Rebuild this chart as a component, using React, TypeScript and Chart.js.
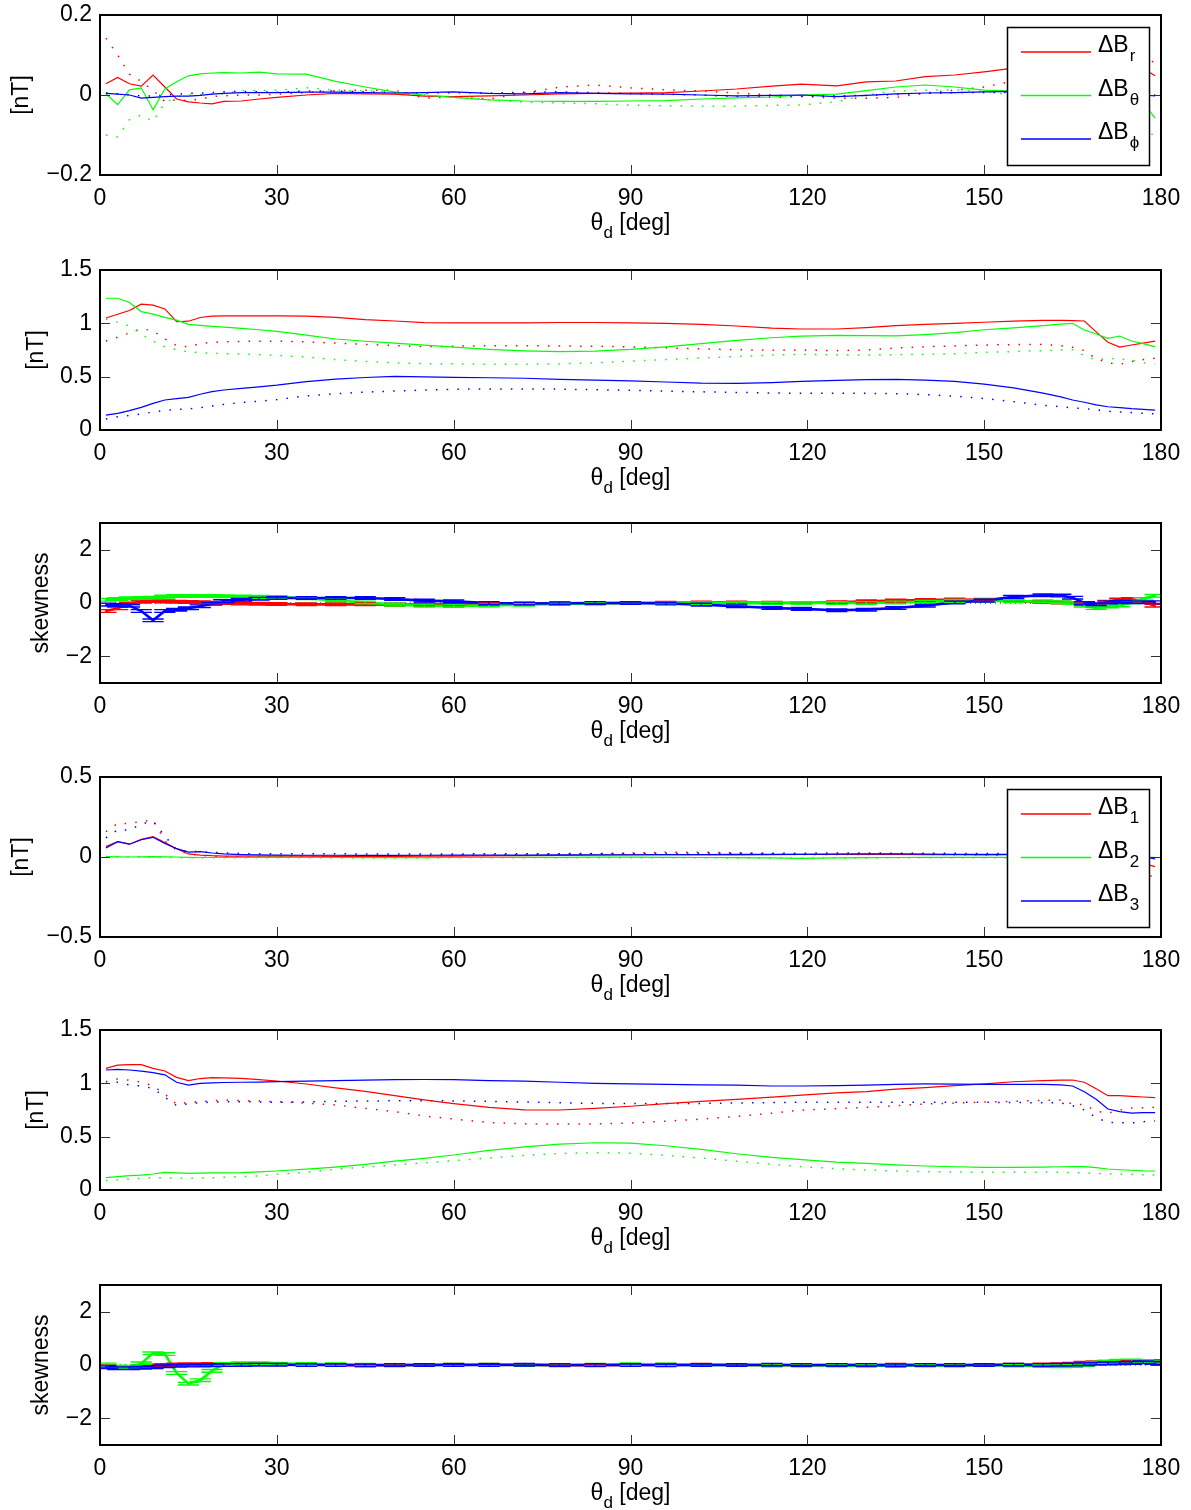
import React, { useEffect, useRef } from "react";
import { Chart, registerables } from "chart.js";
Chart.register(...registerables);

// ---------- data ----------
const THETA = [1, 3, 5, 7, 9, 11, 13, 15, 17, 19, 21,
  24, 27, 30, 35, 40, 45, 50, 55, 60,
  66, 72, 78, 84, 90, 96, 102, 108, 114, 119,
  125, 130, 135, 140, 145, 150, 155, 160,
  163, 165, 167, 169, 171, 173, 175, 177, 179];
const X_TICKS = [0, 30, 60, 90, 120, 150, 180];
const Y_TICKS_MEAN_RTP = [-0.2, 0, 0.2];
const Y_TICKS_STD = [0, 0.5, 1, 1.5];
const Y_TICKS_SKEW = [-2, 0, 2];
const Y_TICKS_MEAN_123 = [-0.5, 0, 0.5];
const LEGEND_RTP = ["r", "θ", "ϕ"];
const LEGEND_123 = ["1", "2", "3"];

// Panel 1: mean dBr, dBtheta, dBphi
const P1_R = [0.028, 0.044, 0.028, 0.022, 0.05, 0.02, -0.01, -0.017, -0.02, -0.022, -0.016,
  -0.015, -0.01, -0.006, 0.0, 0.004, 0.003, 0.002, -0.003, -0.004,
  -0.002, 0.0, 0.003, 0.004, 0.005, 0.006, 0.01, 0.015, 0.022, 0.027,
  0.023, 0.033, 0.035, 0.046, 0.05, 0.058, 0.067, 0.07,
  0.072, 0.073, 0.075, 0.075, 0.075, 0.075, 0.073, 0.066, 0.048];
const P1_G = [0.003, -0.024, 0.013, 0.018, -0.037, 0.015, 0.033, 0.048, 0.053, 0.055, 0.056,
  0.055, 0.057, 0.053, 0.052, 0.034, 0.02, 0.007, 0.0, -0.006,
  -0.012, -0.015, -0.016, -0.016, -0.015, -0.014, -0.01, -0.007, -0.005, 0.0,
  0.002, 0.011, 0.02, 0.025, 0.02, 0.012, 0.01, 0.01,
  0.01, 0.01, 0.01, 0.01, 0.01, 0.008, 0.005, -0.02, -0.058];
const P1_B = [0.004, 0.002, 0.0, -0.008, -0.006, -0.004, -0.003, -0.003, -0.001, 0.002, 0.004,
  0.006, 0.006, 0.006, 0.007, 0.007, 0.006, 0.005, 0.006, 0.008,
  0.004, 0.003, 0.006, 0.004, 0.003, 0.002, 0.0, -0.002, -0.001, 0.0,
  -0.004, -0.001, 0.003, 0.005, 0.006, 0.008, 0.009, 0.008,
  0.006, 0.005, 0.004, 0.003, 0.002, 0.001, 0.0, 0.0, -0.002];
const P1_R_DOT = [0.142, 0.1, 0.052, 0.034, 0.012, -0.016, -0.012, -0.014, -0.01, -0.004, -0.002,
  0.0, 0.0, 0.002, 0.006, 0.011, 0.012, 0.012, -0.008, -0.005,
  -0.01, 0.005, 0.02, 0.025, 0.018, 0.013, 0.01, 0.005, 0.0, -0.003,
  -0.008, -0.008, -0.006, 0.005, 0.012, 0.02, 0.035, 0.045,
  0.05, 0.054, 0.058, 0.062, 0.066, 0.07, 0.074, 0.078, 0.085];
const P1_G_DOT = [-0.1, -0.105, -0.062, -0.05, -0.066, -0.02, -0.005, 0.0, 0.001, 0.002, 0.003,
  0.011, 0.011, 0.012, 0.018, 0.012, 0.011, 0.008, 0.0, -0.006,
  -0.012, -0.018, -0.02, -0.022, -0.025, -0.027, -0.028, -0.028, -0.026, -0.025,
  -0.017, 0.0, 0.01, 0.012, 0.013, 0.008, 0.0, -0.005,
  -0.01, -0.015, -0.02, -0.025, -0.03, -0.04, -0.055, -0.075, -0.106];
const P1_B_DOT = [0.005, 0.003, 0.0, -0.002, -0.003, 0.0, 0.002, 0.004, 0.005, 0.006, 0.008,
  0.009, 0.008, 0.007, 0.01, 0.01, 0.008, 0.006, 0.005, 0.006,
  0.005, 0.007, 0.008, 0.006, 0.004, 0.002, 0.0, -0.004, -0.005, -0.004,
  -0.002, -0.001, 0.001, 0.004, 0.006, 0.006, 0.006, 0.005,
  0.005, 0.004, 0.004, 0.003, 0.003, 0.002, 0.002, 0.001, 0.0];

// Panel 2: std dBr, dBtheta, dBphi
const P2_R = [1.05, 1.085, 1.12, 1.18, 1.17, 1.135, 1.015, 1.02, 1.055, 1.068, 1.07,
  1.07, 1.07, 1.07, 1.068, 1.055, 1.035, 1.022, 1.006, 1.005,
  1.005, 1.005, 1.008, 1.008, 1.005, 1.0, 0.99, 0.975, 0.955, 0.947,
  0.947, 0.96, 0.978, 0.99, 1.0, 1.01, 1.02, 1.027,
  1.028, 1.025, 1.022, 0.92, 0.822, 0.778, 0.797, 0.815, 0.834];
const P2_G = [1.235, 1.235, 1.195, 1.11, 1.087, 1.056, 1.03, 0.99, 0.98, 0.972, 0.965,
  0.952, 0.94, 0.925, 0.89, 0.853, 0.832, 0.815, 0.795, 0.777,
  0.756, 0.742, 0.735, 0.74, 0.755, 0.78, 0.81, 0.84, 0.865, 0.881,
  0.888, 0.884, 0.883, 0.895, 0.912, 0.94, 0.958, 0.978,
  0.992, 1.0, 0.937, 0.9, 0.86, 0.881, 0.834, 0.81, 0.78];
const P2_B = [0.14, 0.156, 0.181, 0.212, 0.25, 0.281, 0.295, 0.306, 0.335, 0.36, 0.375,
  0.39, 0.405, 0.42, 0.453, 0.477, 0.492, 0.503, 0.498, 0.494,
  0.49, 0.485, 0.475, 0.468, 0.46, 0.45, 0.44, 0.438, 0.445, 0.455,
  0.466, 0.473, 0.475, 0.468, 0.455, 0.43, 0.395, 0.345,
  0.31, 0.281, 0.26, 0.235, 0.218, 0.21, 0.2, 0.193, 0.187];
const P2_R_DOT = [0.834, 0.87, 0.91, 0.95, 0.93, 0.853, 0.791, 0.78, 0.81, 0.822, 0.826,
  0.83, 0.833, 0.833, 0.826, 0.815, 0.802, 0.792, 0.781, 0.785,
  0.791, 0.79, 0.788, 0.785, 0.78, 0.77, 0.76, 0.752, 0.748, 0.75,
  0.744, 0.75, 0.768, 0.78, 0.788, 0.797, 0.8, 0.803,
  0.791, 0.775, 0.745, 0.668, 0.63, 0.616, 0.641, 0.66, 0.672];
const P2_G_DOT = [1.04, 1.01, 0.975, 0.9, 0.834, 0.78, 0.752, 0.732, 0.725, 0.72, 0.716,
  0.712, 0.706, 0.7, 0.684, 0.66, 0.642, 0.63, 0.622, 0.62,
  0.616, 0.617, 0.62, 0.63, 0.645, 0.66, 0.675, 0.69, 0.702, 0.709,
  0.705, 0.703, 0.706, 0.709, 0.716, 0.728, 0.736, 0.744,
  0.75, 0.753, 0.697, 0.656, 0.672, 0.665, 0.656, 0.63, 0.62];
const P2_B_DOT = [0.103, 0.125, 0.136, 0.15, 0.168, 0.183, 0.192, 0.198, 0.21, 0.225, 0.24,
  0.258, 0.27, 0.285, 0.32, 0.34, 0.355, 0.365, 0.374, 0.382,
  0.385, 0.385, 0.383, 0.378, 0.372, 0.365, 0.358, 0.352, 0.347, 0.344,
  0.344, 0.344, 0.34, 0.332, 0.317, 0.295, 0.266, 0.232,
  0.218, 0.207, 0.2, 0.19, 0.176, 0.17, 0.163, 0.156, 0.152];

// Panel 3: skewness r, theta, phi
const P3_R = [-0.3, -0.2, -0.02, 0.05, 0.08, 0.06, 0.05, 0.04, 0.03, 0.01, 0.0,
  -0.02, -0.03, -0.04, -0.05, -0.05, -0.05, -0.06, -0.06, -0.05,
  -0.04, -0.03, -0.02, -0.01, 0.0, 0.01, 0.02, 0.02, 0.01, 0.0,
  0.03, 0.06, 0.09, 0.11, 0.13, 0.12, 0.08, 0.04,
  0.02, 0.0, -0.05, -0.1, 0.05, 0.13, 0.15, 0.05, -0.1];
const P3_G = [0.12, 0.15, 0.18, 0.19, 0.2, 0.24, 0.26, 0.26, 0.26, 0.26, 0.25,
  0.24, 0.23, 0.22, 0.18, 0.1, 0.02, -0.06, -0.1, -0.11,
  -0.09, -0.06, -0.04, -0.02, 0.0, 0.0, -0.01, -0.01, -0.01, 0.0,
  0.0, 0.0, 0.02, 0.05, 0.08, 0.09, 0.07, 0.06,
  0.03, 0.0, -0.1, -0.19, -0.13, -0.09, 0.03, 0.15, 0.27];
const P3_B = [-0.06, -0.08, -0.1, -0.3, -0.65, -0.3, -0.25, -0.2, -0.12, -0.03, 0.07,
  0.12, 0.16, 0.19, 0.19, 0.19, 0.19, 0.15, 0.09, 0.06,
  0.0, -0.02, -0.01, 0.0, 0.0, -0.02, -0.06, -0.12, -0.19, -0.22,
  -0.27, -0.25, -0.19, -0.1, 0.02, 0.09, 0.23, 0.29,
  0.28, 0.2, 0.0, -0.05, 0.02, 0.05, 0.03, 0.03, 0.03];

// Panel 4: mean dB1, dB2, dB3
const P4_R = [0.065, 0.096, 0.08, 0.11, 0.127, 0.09, 0.052, 0.019, 0.012, 0.008, 0.006,
  0.005, 0.005, 0.006, 0.005, 0.004, 0.003, 0.004, 0.005, 0.006,
  0.007, 0.008, 0.01, 0.012, 0.013, 0.014, 0.014, 0.013, 0.015, 0.016,
  0.016, 0.017, 0.016, 0.015, 0.014, 0.013, 0.014, 0.015,
  0.015, 0.015, 0.014, 0.013, 0.012, 0.01, 0.0, -0.04, -0.06];
const P4_G = [0.002, 0.001, 0.0, 0.001, 0.002, 0.001, 0.0, -0.002, -0.003, -0.003, -0.003,
  -0.003, -0.002, -0.002, -0.003, -0.003, -0.004, -0.004, -0.004, -0.003,
  -0.003, -0.002, -0.002, -0.001, -0.001, -0.002, -0.003, -0.004, -0.006, -0.008,
  -0.006, -0.004, -0.003, -0.002, -0.002, -0.002, -0.002, -0.002,
  -0.002, -0.002, -0.002, -0.002, -0.002, -0.002, -0.002, -0.002, -0.002];
const P4_B = [0.056, 0.096, 0.08, 0.108, 0.123, 0.085, 0.052, 0.031, 0.033, 0.025, 0.019,
  0.015, 0.013, 0.012, 0.011, 0.011, 0.01, 0.01, 0.011, 0.012,
  0.012, 0.012, 0.013, 0.014, 0.014, 0.015, 0.015, 0.016, 0.017, 0.017,
  0.018, 0.019, 0.019, 0.018, 0.017, 0.017, 0.016, 0.016,
  0.015, 0.015, 0.014, 0.013, 0.012, 0.01, 0.005, 0.0, -0.012];
const P4_R_DOT = [0.158, 0.21, 0.21, 0.222, 0.231, 0.1, 0.042, 0.02, 0.01, 0.005, 0.003,
  0.0, 0.002, 0.003, 0.004, 0.005, 0.005, 0.006, 0.008, 0.01,
  0.012, 0.015, 0.018, 0.02, 0.025, 0.03, 0.03, 0.025, 0.02, 0.015,
  0.015, 0.016, 0.018, 0.017, 0.014, 0.012, 0.01, 0.01,
  0.01, 0.008, 0.006, 0.004, 0.002, 0.0, -0.02, -0.06, -0.15];
const P4_G_DOT = [0.003, 0.002, 0.001, 0.0, 0.0, -0.002, -0.004, -0.005, -0.005, -0.005, -0.005,
  -0.005, -0.005, -0.005, -0.005, -0.006, -0.006, -0.006, -0.006, -0.005,
  -0.005, -0.005, -0.004, -0.004, -0.004, -0.004, -0.005, -0.006, -0.006, -0.007,
  -0.007, -0.006, -0.005, -0.005, -0.004, -0.004, -0.004, -0.004,
  -0.004, -0.004, -0.004, -0.004, -0.004, -0.004, -0.004, -0.004, -0.004];
const P4_B_DOT = [0.12, 0.17, 0.168, 0.206, 0.225, 0.13, 0.045, 0.035, 0.033, 0.03, 0.025,
  0.022, 0.02, 0.02, 0.02, 0.02, 0.019, 0.018, 0.018, 0.019,
  0.02, 0.02, 0.021, 0.022, 0.022, 0.022, 0.023, 0.024, 0.024, 0.024,
  0.025, 0.025, 0.024, 0.024, 0.023, 0.022, 0.022, 0.02,
  0.02, 0.019, 0.018, 0.016, 0.014, 0.012, 0.008, 0.004, 0.0];

// Panel 5: std dB1, dB2, dB3
const P5_R = [1.14, 1.17, 1.175, 1.175, 1.14, 1.116, 1.056, 1.025, 1.045, 1.053, 1.052,
  1.047, 1.035, 1.022, 0.994, 0.958, 0.925, 0.885, 0.845, 0.81,
  0.775, 0.752, 0.75, 0.765, 0.785, 0.81, 0.83, 0.85, 0.87, 0.89,
  0.91, 0.922, 0.945, 0.96, 0.978, 0.995, 1.015, 1.025,
  1.03, 1.031, 1.01, 0.95, 0.884, 0.884, 0.878, 0.872, 0.866];
const P5_G = [0.116, 0.125, 0.135, 0.14, 0.15, 0.166, 0.16, 0.156, 0.158, 0.16, 0.16,
  0.162, 0.17, 0.178, 0.195, 0.215, 0.24, 0.27, 0.297, 0.328,
  0.372, 0.405, 0.43, 0.443, 0.44, 0.415, 0.38, 0.34, 0.305, 0.285,
  0.262, 0.25, 0.235, 0.225, 0.218, 0.213, 0.212, 0.215,
  0.218, 0.219, 0.219, 0.21, 0.197, 0.19, 0.185, 0.18, 0.178];
const P5_B = [1.125, 1.131, 1.125, 1.115, 1.1, 1.08, 1.01, 0.984, 1.0, 1.005, 1.008,
  1.01, 1.012, 1.016, 1.02, 1.025, 1.03, 1.035, 1.036, 1.034,
  1.025, 1.02, 1.01, 1.0, 0.995, 0.99, 0.985, 0.983, 0.975, 0.975,
  0.978, 0.984, 0.99, 0.994, 0.993, 0.991, 0.991, 0.99,
  0.985, 0.975, 0.922, 0.85, 0.759, 0.735, 0.72, 0.725, 0.725];
const P5_R_DOT = [1.016, 1.04, 1.03, 1.012, 0.975, 0.9, 0.803, 0.822, 0.828, 0.836, 0.844,
  0.838, 0.834, 0.828, 0.815, 0.797, 0.765, 0.735, 0.694, 0.665,
  0.633, 0.62, 0.618, 0.62, 0.628, 0.645, 0.665, 0.69, 0.72, 0.75,
  0.762, 0.775, 0.79, 0.806, 0.815, 0.825, 0.832, 0.84,
  0.844, 0.806, 0.8, 0.74, 0.72, 0.75, 0.769, 0.772, 0.775];
const P5_G_DOT = [0.088, 0.095, 0.103, 0.11, 0.116, 0.114, 0.111, 0.109, 0.111, 0.115, 0.12,
  0.125, 0.133, 0.148, 0.165, 0.195, 0.215, 0.235, 0.255, 0.275,
  0.3, 0.325, 0.342, 0.35, 0.345, 0.325, 0.3, 0.27, 0.24, 0.219,
  0.2, 0.187, 0.178, 0.172, 0.168, 0.166, 0.166, 0.166,
  0.166, 0.163, 0.16, 0.156, 0.152, 0.148, 0.145, 0.142, 0.14];
const P5_B_DOT = [1.0, 1.01, 0.984, 0.975, 0.953, 0.87, 0.791, 0.809, 0.819, 0.823, 0.826,
  0.828, 0.826, 0.822, 0.826, 0.832, 0.834, 0.836, 0.838, 0.835,
  0.831, 0.825, 0.818, 0.812, 0.81, 0.81, 0.812, 0.816, 0.82, 0.822,
  0.822, 0.822, 0.822, 0.822, 0.822, 0.822, 0.82, 0.818,
  0.816, 0.791, 0.75, 0.678, 0.634, 0.63, 0.628, 0.64, 0.647];

// Panel 6: skewness 1, 2, 3
const P6_R = [-0.05, -0.08, -0.08, -0.05, -0.02, 0.0, 0.02, 0.03, 0.03, 0.04, 0.04,
  0.04, 0.04, 0.03, 0.02, 0.0, -0.01, -0.01, 0.0, 0.01,
  0.01, 0.0, -0.01, -0.01, 0.0, 0.01, 0.01, 0.0, -0.01, -0.01,
  0.0, 0.0, 0.01, 0.0, -0.01, 0.0, 0.01, 0.02,
  0.03, 0.05, 0.08, 0.1, 0.1, 0.12, 0.13, 0.15, 0.15];
const P6_G = [0.02, -0.06, -0.08, 0.06, 0.44, 0.41, -0.3, -0.7, -0.57, -0.22, 0.04,
  0.06, 0.06, 0.05, 0.04, 0.03, 0.01, 0.0, 0.0, 0.01,
  0.01, 0.0, 0.0, 0.01, 0.03, 0.02, 0.0, 0.0, -0.01, -0.01,
  -0.02, -0.03, -0.03, -0.02, -0.01, 0.0, -0.02, -0.04,
  -0.05, -0.04, 0.0, 0.08, 0.13, 0.16, 0.17, 0.15, 0.12];
const P6_B = [-0.08, -0.12, -0.12, -0.1, -0.08, -0.05, -0.03, -0.02, -0.02, -0.01, 0.0,
  0.0, 0.01, 0.01, 0.0, 0.0, -0.01, 0.0, 0.0, 0.0,
  0.0, 0.01, 0.0, 0.0, 0.0, -0.01, 0.0, 0.0, 0.01, 0.0,
  0.0, 0.0, -0.01, 0.0, 0.0, 0.0, 0.01, 0.0,
  0.01, 0.02, 0.03, 0.05, 0.06, 0.07, 0.08, 0.1, 0.08];

const SKEW_ERR = 0.05;       // estimated size of the small skewness error bars
const CAP_HALF_DEG = 1.8;    // error bar cap half-width in degrees

// ---------- styling / layout ----------
const RED = "#ff0000";
const GREEN = "#00ff00";
const BLUE = "#0000ff";
const FONT = "'Liberation Sans', Arial, Helvetica, sans-serif";
const FS = 23;        // main font size
const FS_SUB = 17;    // subscript size
const CANVAS_W = 1191;
const CANVAS_H = 254;
const PAD_TOP = 15;
const PLOT_H = 160;
const Y_AXIS_W = 100;
const PAD_RIGHT = 30;
const X_AXIS_H = CANVAS_H - PAD_TOP - PLOT_H;

type Series = { data: number[]; color: string; dotted?: boolean };
type PanelDef = {
  top: number; yMin: number; yMax: number; yTicks: number[];
  yTitle: string; yTitleX: number; series: Series[]; skew?: boolean; legend?: string[];
};

const PANELS: PanelDef[] = [
  {
    top: 15, yMin: -0.2, yMax: 0.2, yTicks: Y_TICKS_MEAN_RTP, yTitle: "[nT]", yTitleX: 22, legend: LEGEND_RTP,
    series: [
      { data: P1_B, color: BLUE }, { data: P1_G, color: GREEN }, { data: P1_R, color: RED },
      { data: P1_B_DOT, color: BLUE, dotted: true }, { data: P1_G_DOT, color: GREEN, dotted: true }, { data: P1_R_DOT, color: RED, dotted: true },
    ],
  },
  {
    top: 270, yMin: 0, yMax: 1.5, yTicks: Y_TICKS_STD, yTitle: "[nT]", yTitleX: 37,
    series: [
      { data: P2_B, color: BLUE }, { data: P2_G, color: GREEN }, { data: P2_R, color: RED },
      { data: P2_B_DOT, color: BLUE, dotted: true }, { data: P2_G_DOT, color: GREEN, dotted: true }, { data: P2_R_DOT, color: RED, dotted: true },
    ],
  },
  {
    top: 523, yMin: -3, yMax: 3, yTicks: Y_TICKS_SKEW, yTitle: "skewness", yTitleX: 42, skew: true,
    series: [{ data: P3_B, color: BLUE }, { data: P3_G, color: GREEN }, { data: P3_R, color: RED }],
  },
  {
    top: 777, yMin: -0.5, yMax: 0.5, yTicks: Y_TICKS_MEAN_123, yTitle: "[nT]", yTitleX: 22, legend: LEGEND_123,
    series: [
      { data: P4_B, color: BLUE }, { data: P4_G, color: GREEN }, { data: P4_R, color: RED },
      { data: P4_B_DOT, color: BLUE, dotted: true }, { data: P4_G_DOT, color: GREEN, dotted: true }, { data: P4_R_DOT, color: RED, dotted: true },
    ],
  },
  {
    top: 1030, yMin: 0, yMax: 1.5, yTicks: Y_TICKS_STD, yTitle: "[nT]", yTitleX: 37,
    series: [
      { data: P5_B, color: BLUE }, { data: P5_G, color: GREEN }, { data: P5_R, color: RED },
      { data: P5_B_DOT, color: BLUE, dotted: true }, { data: P5_G_DOT, color: GREEN, dotted: true }, { data: P5_R_DOT, color: RED, dotted: true },
    ],
  },
  {
    top: 1285, yMin: -3, yMax: 3, yTicks: Y_TICKS_SKEW, yTitle: "skewness", yTitleX: 42, skew: true,
    series: [{ data: P6_B, color: BLUE }, { data: P6_G, color: GREEN }, { data: P6_R, color: RED }],
  },
];

const fmtTick = (v: number) => (v < 0 ? "\u2212" + String(-v) : String(v));

function makeDeco(def: PanelDef) {
  return {
    id: "deco",
    afterDatasetsDraw(chart: any) {
      if (!def.skew) return;
      const { ctx, chartArea: ca, scales } = chart;
      const xs = scales.x, ys = scales.y;
      ctx.save();
      ctx.beginPath();
      ctx.rect(ca.left, ca.top, ca.right - ca.left, ca.bottom - ca.top);
      ctx.clip();
      for (let si = def.series.length - 1; si >= 0; si--) {
        const s = def.series[si];
        ctx.strokeStyle = s.color;
        ctx.lineWidth = 1.4;
        ctx.beginPath();
        THETA.forEach((x, i) => {
          const px = xs.getPixelForValue(x);
          const hw = xs.getPixelForValue(x + CAP_HALF_DEG) - px;
          const yLo = ys.getPixelForValue(s.data[i] - SKEW_ERR);
          const yHi = ys.getPixelForValue(s.data[i] + SKEW_ERR);
          ctx.moveTo(px, yLo); ctx.lineTo(px, yHi);
          ctx.moveTo(px - hw, yLo); ctx.lineTo(px + hw, yLo);
          ctx.moveTo(px - hw, yHi); ctx.lineTo(px + hw, yHi);
        });
        ctx.stroke();
      }
      ctx.restore();
    },
    afterDraw(chart: any) {
      const { ctx, chartArea: ca, scales } = chart;
      const xs = scales.x, ys = scales.y;
      ctx.save();
      // inward tick marks
      ctx.strokeStyle = "#333";
      ctx.lineWidth = 1;
      ctx.beginPath();
      X_TICKS.forEach((v) => {
        const px = Math.round(xs.getPixelForValue(v)) + 0.5;
        ctx.moveTo(px, ca.top); ctx.lineTo(px, ca.top + 10);
        ctx.moveTo(px, ca.bottom); ctx.lineTo(px, ca.bottom - 10);
      });
      def.yTicks.forEach((v) => {
        const py = Math.round(ys.getPixelForValue(v)) + 0.5;
        ctx.moveTo(ca.left, py); ctx.lineTo(ca.left + 10, py);
        ctx.moveTo(ca.right, py); ctx.lineTo(ca.right - 10, py);
      });
      ctx.stroke();
      // frame
      ctx.strokeStyle = "#000";
      ctx.lineWidth = 2;
      ctx.strokeRect(ca.left, ca.top, ca.right - ca.left, ca.bottom - ca.top);

      const big = `${FS}px ${FONT}`, small = `${FS_SUB}px ${FONT}`;

      // legend
      if (def.legend) {
        const bx = Math.round(ca.right) - 154;
        const by = Math.round(ca.top) + 12;
        const bw = 142, bh = 138;
        ctx.fillStyle = "#fff";
        ctx.fillRect(bx, by, bw, bh);
        ctx.strokeStyle = "#000";
        ctx.lineWidth = 1.5;
        ctx.strokeRect(bx + 0.5, by + 0.5, bw, bh);
        const colors = [RED, GREEN, BLUE];
        def.legend.forEach((sub, i) => {
          const ly = by + 25 + i * 43.5;
          ctx.strokeStyle = colors[i];
          ctx.lineWidth = 1.3;
          ctx.beginPath();
          ctx.moveTo(bx + 14, ly); ctx.lineTo(bx + 84, ly);
          ctx.stroke();
          ctx.fillStyle = "#000";
          ctx.textAlign = "left";
          ctx.textBaseline = "alphabetic";
          ctx.font = big;
          ctx.fillText("ΔB", bx + 91, ly);
          const w = ctx.measureText("ΔB").width;
          ctx.font = small;
          ctx.fillText(sub, bx + 91 + w + 1, ly + 9);
        });
      }

      // x title: theta_d [deg]
      ctx.fillStyle = "#000";
      ctx.textBaseline = "alphabetic";
      ctx.textAlign = "left";
      ctx.font = big;
      const w1 = ctx.measureText("θ").width;
      const w3 = ctx.measureText(" [deg]").width;
      ctx.font = small;
      const w2 = ctx.measureText("d").width;
      const cx = xs.getPixelForValue(90);
      const x0 = cx - (w1 + w2 + w3) / 2;
      const base = ca.bottom + 55;
      ctx.font = big;
      ctx.fillText("θ", x0, base);
      ctx.font = small;
      ctx.fillText("d", x0 + w1, base + 8);
      ctx.font = big;
      ctx.fillText(" [deg]", x0 + w1 + w2, base);

      // y title
      ctx.translate(def.yTitleX, (ca.top + ca.bottom) / 2);
      ctx.rotate(-Math.PI / 2);
      ctx.textAlign = "center";
      ctx.textBaseline = "middle";
      ctx.font = big;
      ctx.fillText(def.yTitle, 0, 0);
      ctx.restore();
    },
  };
}

function Panel({ def }: { def: PanelDef }) {
  const ref = useRef<HTMLCanvasElement>(null);
  useEffect(() => {
    const canvas = ref.current;
    if (!canvas) return;
    const datasets: any[] = def.series.map((s) => ({
      data: THETA.map((x, i) => ({ x, y: s.data[i] })),
      borderColor: s.color,
      backgroundColor: s.color,
      borderWidth: s.dotted ? 1.5 : def.skew ? 2.6 : 1.2,
      borderDash: s.dotted ? [1.5, 9.2] : [],
      pointRadius: 0,
      fill: false,
      tension: 0,
    }));
    if (def.skew) {
      datasets.push({
        data: [{ x: 0, y: 0 }, { x: 180, y: 0 }],
        borderColor: "#000",
        borderWidth: 1,
        borderDash: [1, 4],
        pointRadius: 0,
        fill: false,
      });
    }
    const chart = new Chart(canvas, {
      type: "line",
      data: { datasets },
      options: {
        animation: false,
        responsive: false,
        maintainAspectRatio: false,
        devicePixelRatio: 1,
        events: [],
        layout: { padding: { left: 0, right: PAD_RIGHT, top: PAD_TOP, bottom: 0 } },
        plugins: { legend: { display: false }, tooltip: { enabled: false } },
        scales: {
          x: {
            type: "linear",
            min: 0,
            max: 180,
            grid: { display: false, drawTicks: false },
            border: { display: false },
            afterBuildTicks: (s: any) => { s.ticks = X_TICKS.map((v) => ({ value: v })); },
            afterFit: (s: any) => {
              s.height = X_AXIS_H;
              s.paddingLeft = 0; s.paddingRight = 0; s.paddingTop = 0; s.paddingBottom = 0;
            },
            ticks: {
              color: "#000",
              font: { family: FONT, size: FS },
              padding: 10,
              maxRotation: 0,
              autoSkip: false,
              callback: (v: any) => fmtTick(Number(v)),
            },
          },
          y: {
            type: "linear",
            min: def.yMin,
            max: def.yMax,
            grid: { display: false, drawTicks: false },
            border: { display: false },
            afterBuildTicks: (s: any) => { s.ticks = def.yTicks.map((v) => ({ value: v })); },
            afterFit: (s: any) => {
              s.width = Y_AXIS_W;
              s.paddingLeft = 0; s.paddingRight = 0; s.paddingTop = 0; s.paddingBottom = 0;
            },
            ticks: {
              color: "#000",
              font: { family: FONT, size: FS },
              padding: 8,
              autoSkip: false,
              callback: (v: any) => fmtTick(Number(v)),
            },
          },
        },
      } as any,
      plugins: [makeDeco(def)],
    });
    return () => chart.destroy();
  }, [def]);
  return (
    <canvas
      ref={ref}
      width={CANVAS_W}
      height={CANVAS_H}
      style={{ position: "absolute", left: 0, top: def.top - PAD_TOP, display: "block" }}
    />
  );
}

export default function App() {
  return (
    <div
      style={{
        position: "absolute",
        left: 0,
        top: 0,
        width: 1191,
        height: 1510,
        overflow: "hidden",
        background: "#fff",
      }}
    >
      {PANELS.map((p, i) => (
        <Panel key={i} def={p} />
      ))}
    </div>
  );
}
